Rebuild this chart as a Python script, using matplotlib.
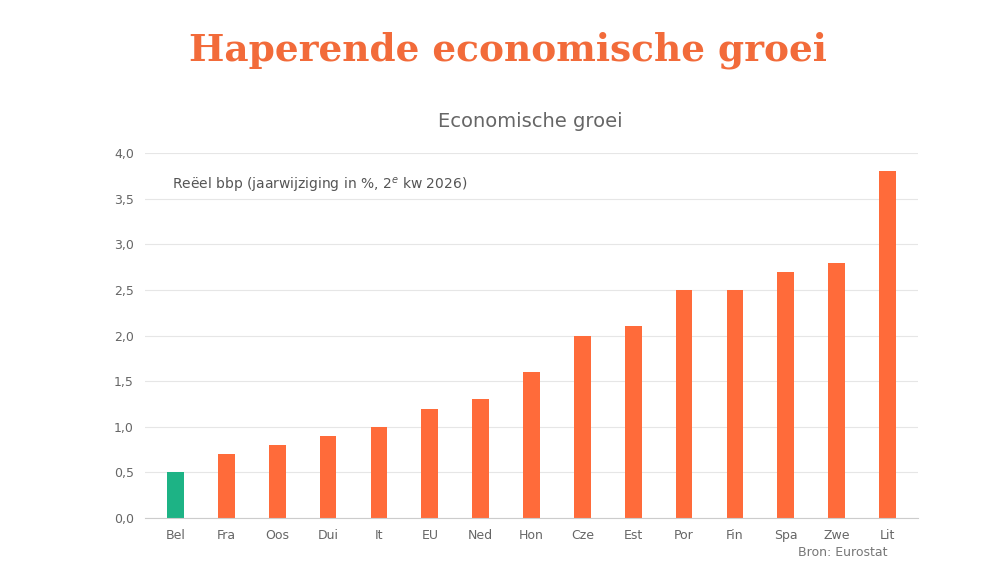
import matplotlib.pyplot as plt

landen = ['Bel', 'Fra', 'Oos', 'Dui', 'It', 'EU', 'Ned', 'Hon', 'Cze', 'Est',
          'Por', 'Fin', 'Spa', 'Zwe', 'Lit']
groei = [0.5, 0.7, 0.8, 0.9, 1.0, 1.2, 1.3, 1.6, 2.0, 2.1, 2.5, 2.5, 2.7, 2.8, 3.8]
yticks = [0.0, 0.5, 1.0, 1.5, 2.0, 2.5, 3.0, 3.5, 4.0]

kleuren = ['#1DB385' if l == 'Bel' else '#FF6B3A' for l in landen]

fig = plt.figure(figsize=(10, 5.63), dpi=100)
ax = fig.add_axes([0.145, 0.080, 0.773, 0.648])
ax.bar(range(len(landen)), groei, width=0.33, color=kleuren, zorder=2)
ax.set_xlim(-0.6, len(landen) - 0.4)
ax.set_ylim(0, 4.0)
ax.set_yticks(yticks)
ax.set_yticklabels([f'{v:.1f}'.replace('.', ',') for v in yticks])
ax.set_xticks(range(len(landen)))
ax.set_xticklabels(landen)
ax.grid(axis='y', color='#e6e6e6', linewidth=0.8, zorder=0)
for s in ['top', 'right', 'left']:
    ax.spines[s].set_visible(False)
ax.spines['bottom'].set_color('#cccccc')
ax.tick_params(length=0, labelsize=9, colors='#666666', pad=8)

ax.text(0.035, 0.91, 'Reëel bbp (jaarwijziging in %, 2$^{e}$ kw 2026)', transform=ax.transAxes,
        fontsize=10, color='#555555', va='center')
fig.text(0.888, 0.012, 'Bron: Eurostat', fontsize=9, color='#777777', ha='right')
fig.text(0.53, 0.775, 'Economische groei', fontsize=14, color='#666666', ha='center')
fig.text(0.508, 0.91, 'Haperende economische groei', fontsize=27, color='#F26B3A',
         ha='center', va='center', fontweight='bold', family='DejaVu Serif')

fig.savefig('out.png')
